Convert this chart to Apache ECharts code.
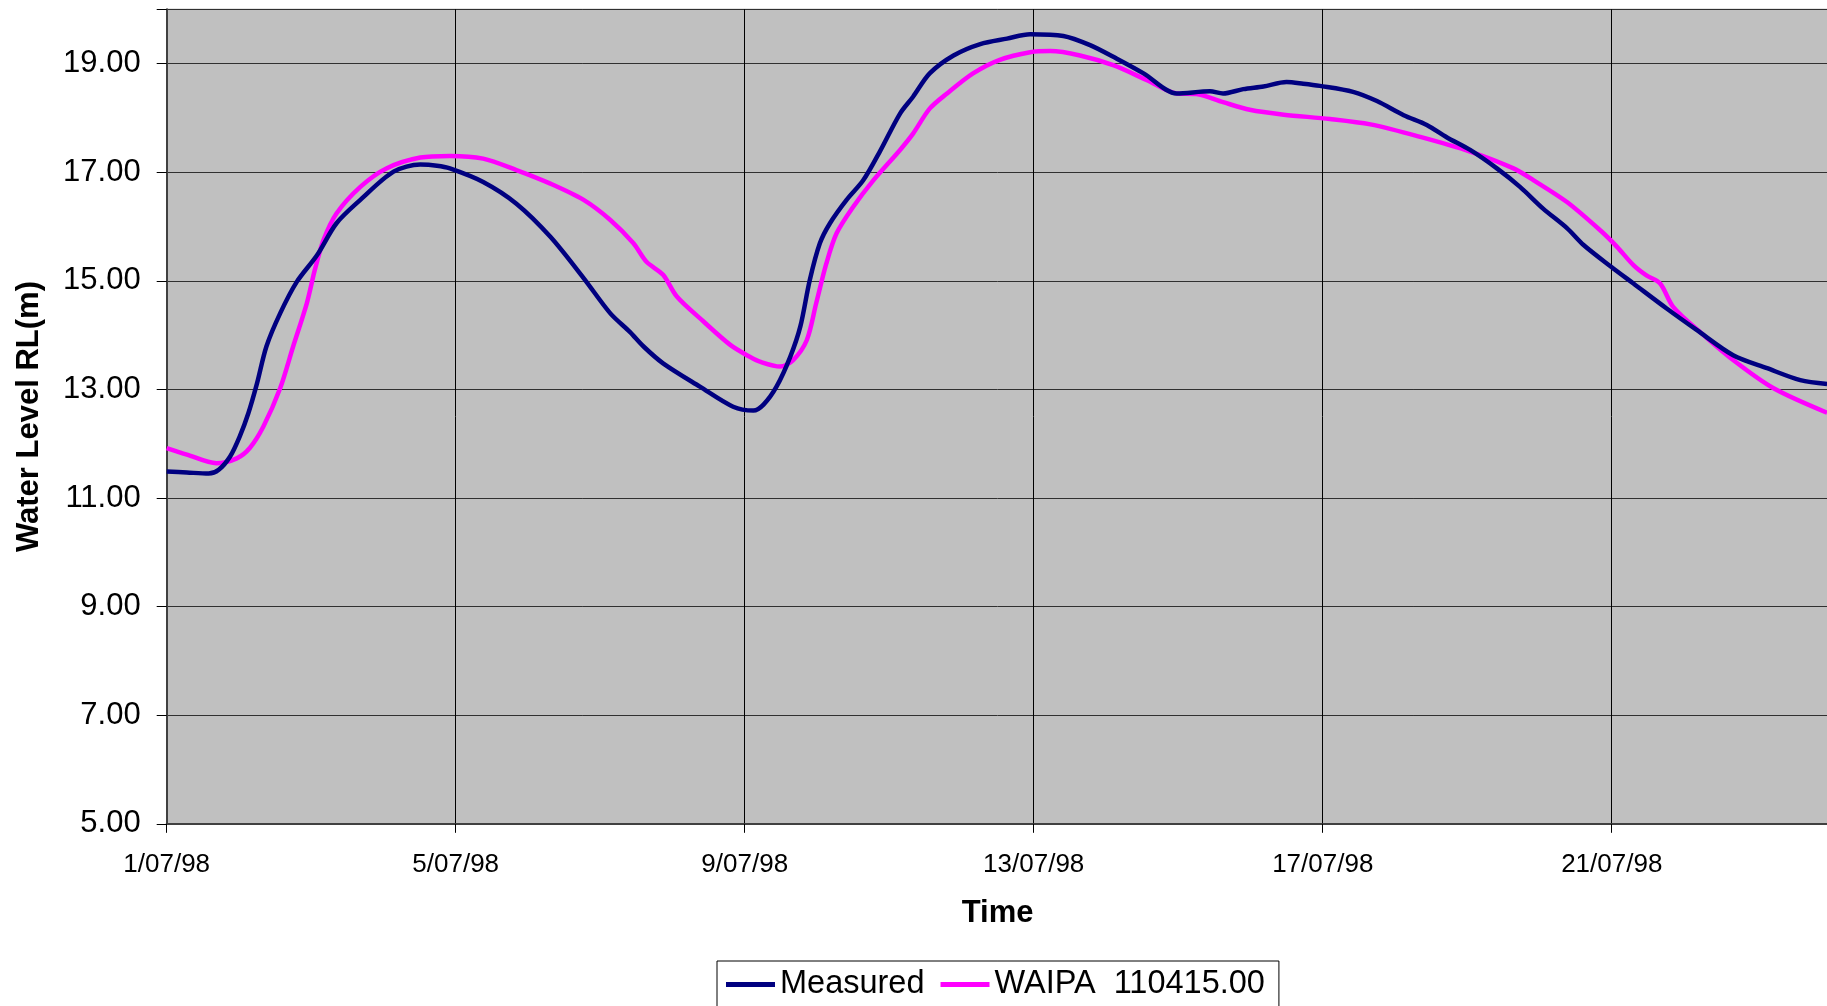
<!DOCTYPE html>
<html>
<head>
<meta charset="utf-8">
<script src="https://cdn.jsdelivr.net/npm/echarts@6/dist/echarts.min.js"></script>
<style>
html,body{margin:0;padding:0;background:#fff;overflow:hidden;width:1827px;height:1006px;}
#chart{width:1850px;height:1006px;}
</style>
</head>
<body>
<div id="chart"></div>
<script>
// Time in days after 1/07/98 00:00
const measuredDays = [0.00,0.28,0.58,0.72,0.88,1.01,1.13,1.25,1.38,1.57,1.80,2.08,2.35,2.68,3.14,3.51,3.74,3.92,4.38,4.84,5.31,5.77,6.14,6.41,6.60,6.87,7.38,7.84,8.12,8.26,8.44,8.63,8.77,8.90,9.04,9.18,9.41,9.64,9.87,10.15,10.33,10.56,10.89,11.26,11.63,11.95,12.41,12.78,13.15,13.52,13.98,14.44,14.62,14.90,15.18,15.50,15.73,15.96,16.42,16.75,17.12,17.44,17.72,18.04,18.41,18.73,19.05,19.38,19.61,20.00,20.30,20.76,21.18,21.68,22.15,22.61,22.98];
const measuredLevels = [11.49,11.47,11.45,11.52,11.77,12.13,12.56,13.11,13.79,14.40,14.98,15.47,16.06,16.49,17.01,17.14,17.12,17.07,16.82,16.42,15.81,15.05,14.40,14.06,13.79,13.48,13.05,12.68,12.61,12.72,13.05,13.60,14.16,15.01,15.69,16.06,16.49,16.85,17.38,18.08,18.39,18.82,19.15,19.36,19.46,19.54,19.51,19.34,19.09,18.82,18.45,18.49,18.45,18.53,18.58,18.66,18.63,18.59,18.48,18.31,18.05,17.87,17.64,17.41,17.07,16.73,16.33,15.97,15.66,15.25,14.95,14.49,14.09,13.63,13.39,13.17,13.10];
const waipaDays = [0.00,0.28,0.69,0.97,1.15,1.34,1.57,1.75,1.94,2.05,2.17,2.35,2.68,3.04,3.51,3.92,4.38,4.84,5.31,5.77,6.14,6.46,6.64,6.87,7.06,7.43,7.80,8.07,8.21,8.49,8.67,8.86,8.99,9.13,9.27,9.50,9.78,10.15,10.33,10.56,10.80,11.16,11.53,11.95,12.23,12.64,13.10,13.56,13.98,14.25,14.62,14.99,15.46,16.10,16.66,17.35,18.04,18.64,18.92,19.38,19.84,20.07,20.30,20.48,20.67,20.85,21.22,21.68,22.24,22.98];
const waipaLevels = [11.92,11.80,11.64,11.73,11.92,12.32,13.02,13.79,14.59,15.20,15.75,16.24,16.73,17.07,17.27,17.30,17.25,17.04,16.79,16.49,16.12,15.69,15.35,15.11,14.71,14.25,13.82,13.60,13.51,13.42,13.54,13.91,14.59,15.32,15.87,16.36,16.85,17.41,17.71,18.17,18.45,18.82,19.07,19.21,19.23,19.15,18.97,18.70,18.45,18.44,18.29,18.15,18.06,17.98,17.88,17.65,17.38,17.07,16.85,16.45,15.93,15.63,15.29,15.10,14.95,14.52,14.06,13.54,13.02,12.57];
const seriesNames = ['Measured', 'WAIPA  110415.00'];
const xTickLabels = ['1/07/98','5/07/98','9/07/98','13/07/98','17/07/98','21/07/98'];
const yTickLabels = ['5.00','7.00','9.00','11.00','13.00','15.00','17.00','19.00'];

const FONT = '"Liberation Sans", Arial, sans-serif';
const chart = echarts.init(document.getElementById('chart'), null, {renderer: 'canvas'});
const toPairs = (xs, ys) => xs.map((x, i) => [x, ys[i]]);

chart.setOption({
  animation: false,
  backgroundColor: '#ffffff',
  grid: {
    left: 166.7, top: 9.3, right: 21.5, bottom: 182.2,
    show: true, backgroundColor: '#C0C0C0', borderColor: '#808080', borderWidth: 1
  },
  legend: {
    left: 717, top: 961,
    orient: 'horizontal',
    data: seriesNames,
    icon: 'rect', itemWidth: 49, itemHeight: 5, itemGap: 16,
    padding: [7, 14, 7, 9],
    borderColor: '#000', borderWidth: 1, backgroundColor: '#fff',
    textStyle: {fontFamily: FONT, fontSize: 32.5, color: '#000'}
  },
  xAxis: {
    type: 'value', min: 0, max: 23, interval: 4,
    name: 'Time', nameLocation: 'middle', nameGap: 74,
    nameTextStyle: {fontFamily: FONT, fontSize: 31, fontWeight: 'bold', color: '#000'},
    axisLine: {show: true, onZero: false, lineStyle: {color: '#404040', width: 2}},
    axisTick: {show: true, inside: false, length: 9, lineStyle: {color: '#000', width: 1}},
    axisLabel: {
      margin: 28, fontFamily: FONT, fontSize: 26, color: '#000',
      formatter: v => (v % 4 === 0 ? xTickLabels[v / 4] : '')
    },
    splitLine: {show: true, lineStyle: {color: '#000', width: 1}}
  },
  yAxis: {
    type: 'value', min: 5, max: 20, interval: 2,
    name: 'Water Level RL(m)', nameLocation: 'middle', nameGap: 122, nameRotate: 90,
    nameTextStyle: {fontFamily: FONT, fontSize: 31, fontWeight: 'bold', color: '#000'},
    axisLine: {show: true, onZero: false, lineStyle: {color: '#404040', width: 2}},
    axisTick: {show: true, inside: false, length: 10, lineStyle: {color: '#000', width: 1}},
    axisLabel: {
      margin: 26, fontFamily: FONT, fontSize: 31, color: '#000',
      formatter: v => { const i = (v - 5) / 2; return Number.isInteger(i) && i < yTickLabels.length ? yTickLabels[i] : ''; }
    },
    splitLine: {show: true, lineStyle: {color: '#303030', width: 1}}
  },
  series: [
    {
      name: seriesNames[0], type: 'line', data: toPairs(measuredDays, measuredLevels),
      showSymbol: false, symbol: 'none', smooth: 0.3, z: 3,
      lineStyle: {color: '#000080', width: 4.5}, itemStyle: {color: '#000080'}
    },
    {
      name: seriesNames[1], type: 'line', data: toPairs(waipaDays, waipaLevels),
      showSymbol: false, symbol: 'none', smooth: 0.3, z: 2,
      lineStyle: {color: '#FF00FF', width: 4.5}, itemStyle: {color: '#FF00FF'}
    }
  ]
});
</script>
</body>
</html>
